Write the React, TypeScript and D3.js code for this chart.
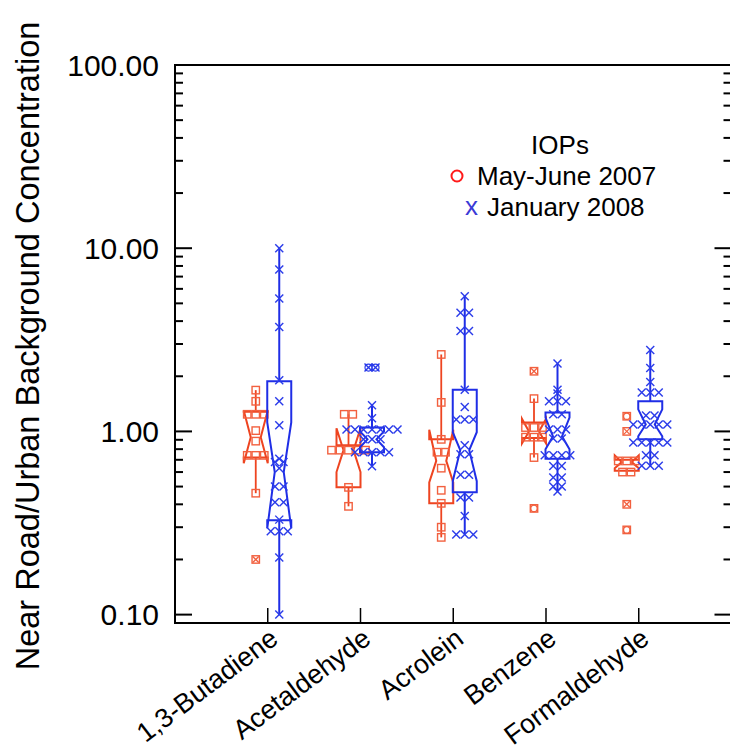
import React from "react";
import * as d3 from "d3";

const categories = ["1,3-Butadiene", "Acetaldehyde", "Acrolein", "Benzene", "Formaldehyde"];
const yTickValues = [0.1, 1, 10, 100];
const yTickLabels = ["0.10", "1.00", "10.00", "100.00"];
const yTitle = "Near Road/Urban Background Concentration";
const legendTitle = "IOPs";
const seriesNames = ["May-June 2007", "January 2008"];

// May-June 2007 (red) observations per category
const redValues = [
  [1.68, 1.46, 1.24, 1.24, 1.24, 1.01, 0.885, 0.74, 0.74, 0.74, 0.46],
  [1.24, 1.24, 0.79, 0.79, 0.79, 0.79, 0.79, 0.495, 0.39],
  [2.63, 1.44, 0.905, 0.77, 0.77, 0.63, 0.477, 0.405, 0.3, 0.264],
  [1.51, 1.05, 1.05, 1.05, 0.93, 0.93, 0.93, 0.72],
  [0.69, 0.69, 0.69, 0.6, 0.6],
];
// outliers: value and kind ("x" = marked with x, "o" = marked with circle)
const redOutlierValues = [[0.2], [], [], [2.13, 0.38], [1.21, 1.0, 0.4, 0.29]];
const redOutlierKinds = [["x"], [], [], ["x", "o"], ["o", "x", "x", "o"]];
const redQ1 = [0.72, 0.495, 0.405, 0.92, 0.61];
const redMedian = [0.93, 0.79, 0.69, 1.0, 0.68];
const redQ3 = [1.28, 0.84, 0.905, 1.12, 0.7];
const redNotchLo = [0.67, 0.6, 0.527, 0.86, 0.63];
const redNotchHi = [1.3, 1.04, 1.02, 1.17, 0.74];
const redWhiskLo = [0.46, 0.39, 0.264, 0.72, 0.6];
const redWhiskHi = [1.68, 1.24, 2.63, 1.51, 0.7];

// January 2008 (blue) observations per category
const blueValues = [
  [10, 7.65, 5.32, 3.71, 1.9, 1.46, 1.08, 0.71, 0.68, 0.68, 0.63, 0.5, 0.5, 0.41, 0.41, 0.33, 0.285, 0.285, 0.285, 0.205, 0.1],
  [1.39, 1.18, 1.025, 1.025, 1.025, 1.025, 1.025, 1.025, 1.025, 0.905, 0.905, 0.905, 0.77, 0.77, 0.77, 0.77, 0.77, 0.646],
  [5.47, 4.44, 4.44, 3.53, 3.53, 1.69, 1.36, 1.16, 1.16, 1.16, 0.84, 0.75, 0.75, 0.58, 0.58, 0.436, 0.436, 0.345, 0.274, 0.274, 0.274],
  [2.35, 1.69, 1.61, 1.46, 1.46, 1.46, 1.24, 1.24, 1.025, 1.025, 1.025, 0.915, 0.915, 0.74, 0.74, 0.74, 0.74, 0.647, 0.647, 0.56, 0.56, 0.5, 0.5, 0.47],
  [2.78, 2.22, 1.86, 1.63, 1.63, 1.63, 1.22, 1.22, 1.09, 1.09, 1.09, 1.09, 1.09, 0.87, 0.87, 0.87, 0.87, 0.87, 0.74, 0.74, 0.65, 0.65, 0.65],
];
const blueOutlierValues = [[], [2.23, 2.23], [], [], []];
const blueQ1 = [0.327, 0.77, 0.465, 0.71, 0.905];
const blueMedian = [0.6, 0.905, 0.79, 0.94, 1.09];
const blueQ3 = [1.88, 1.05, 1.69, 1.27, 1.46];
const blueNotchLo = [0.296, 0.82, 0.535, 0.8, 0.94];
const blueNotchHi = [1.12, 1.0, 0.99, 1.19, 1.32];
const blueWhiskLo = [0.1, 0.646, 0.274, 0.47, 0.64];
const blueWhiskHi = [10, 1.39, 5.47, 2.35, 2.78];

const W = 730;
const H = 751;
const LEFT = 175;
const RIGHT = 731.5;
const TOP = 65;
const BOTTOM = 623;
const RED = "#ee4420";
const RED_PT = "#f2603f";
const BLUE = "#1f2ee6";
const BLUE_PT = "#2a3bea";
const FONT = "'Liberation Sans', Arial, Helvetica, sans-serif";

const x = d3.scaleLinear().domain([0, categories.length + 1]).range([LEFT, RIGHT]);
const y = d3.scaleLog().domain([0.09, 100]).range([BOTTOM, TOP]);

function spread(values: number[], spacing: number) {
  const counts = new Map<number, number>();
  values.forEach((v) => counts.set(v, (counts.get(v) || 0) + 1));
  const seen = new Map<number, number>();
  return values.map((v) => {
    const n = counts.get(v) || 1;
    const i = seen.get(v) || 0;
    seen.set(v, i + 1);
    return { v, dx: (i - (n - 1) / 2) * spacing };
  });
}

function notchPath(cx: number, hw: number, nw: number, q1: number, nLo: number, med: number, nHi: number, q3: number) {
  const pts: [number, number][] = [
    [cx - hw, y(q1)],
    [cx + hw, y(q1)],
    [cx + hw, y(nLo)],
    [cx + nw, y(med)],
    [cx + hw, y(nHi)],
    [cx + hw, y(q3)],
    [cx - hw, y(q3)],
    [cx - hw, y(nHi)],
    [cx - nw, y(med)],
    [cx - hw, y(nLo)],
  ];
  return d3.line()(pts) + "Z";
}

function Square({ cx, cy }: { cx: number; cy: number }) {
  return <rect x={cx - 3.7} y={cy - 3.7} width={7.4} height={7.4} fill="none" stroke={RED_PT} strokeWidth={1.4} />;
}

function Cross({ cx, cy, r, color, w }: { cx: number; cy: number; r: number; color: string; w: number }) {
  return (
    <g stroke={color} strokeWidth={w}>
      <line x1={cx - r} y1={cy - r} x2={cx + r} y2={cy + r} />
      <line x1={cx - r} y1={cy + r} x2={cx + r} y2={cy - r} />
    </g>
  );
}

export default function App() {
  const minorTicks: number[] = [];
  [0.1, 1, 10].forEach((d) => {
    for (let k = 2; k <= 9; k++) minorTicks.push(d * k);
  });

  return (
    <svg width={W} height={H} style={{ position: "absolute", left: 0, top: 0, background: "#fff" }} fontFamily={FONT}>
      <rect x={0} y={0} width={W} height={H} fill="#fff" />
      {/* frame */}
      <g stroke="#000" strokeWidth={2} fill="none">
        <line x1={LEFT} y1={TOP} x2={RIGHT} y2={TOP} />
        <line x1={LEFT} y1={TOP - 1} x2={LEFT} y2={BOTTOM + 1} />
        <line x1={LEFT} y1={BOTTOM} x2={RIGHT} y2={BOTTOM} />
        <line x1={RIGHT} y1={TOP} x2={RIGHT} y2={BOTTOM} />
        {yTickValues.map((v) => (
          <g key={"mj" + v}>
            <line x1={LEFT} y1={y(v)} x2={LEFT + 17} y2={y(v)} />
            <line x1={RIGHT} y1={y(v)} x2={RIGHT - 17} y2={y(v)} />
          </g>
        ))}
        {minorTicks.map((v) => (
          <g key={"mn" + v}>
            <line x1={LEFT} y1={y(v)} x2={LEFT + 8} y2={y(v)} />
            <line x1={RIGHT} y1={y(v)} x2={RIGHT - 8} y2={y(v)} />
          </g>
        ))}
        {categories.map((c, i) => (
          <line key={"xt" + c} x1={x(i + 1)} y1={BOTTOM} x2={x(i + 1)} y2={BOTTOM - 15} strokeWidth={1.5} />
        ))}
      </g>
      {/* y tick labels */}
      {yTickValues.map((v, i) => (
        <text key={"yl" + v} x={159} y={y(v)} dy="0.36em" textAnchor="end" fontSize={30} fill="#000">
          {yTickLabels[i]}
        </text>
      ))}
      {/* y title */}
      <text transform={`translate(39,346) rotate(-90)`} textAnchor="middle" fontSize={32.5} fill="#000">
        {yTitle}
      </text>
      {/* category labels */}
      {categories.map((c, i) => (
        <text
          key={"cl" + c}
          transform={`translate(${x(i + 1) + 12},${642}) rotate(-37)`}
          textAnchor="end"
          fontSize={27}
          fill="#000"
        >
          {c}
        </text>
      ))}

      {/* red series */}
      {categories.map((c, i) => {
        const cx = x(i + 1) - 12;
        return (
          <g key={"red" + c}>
            <line x1={cx} y1={y(redQ3[i])} x2={cx} y2={y(redWhiskHi[i])} stroke={RED} strokeWidth={1.8} />
            <line x1={cx} y1={y(redQ1[i])} x2={cx} y2={y(redWhiskLo[i])} stroke={RED} strokeWidth={1.8} />
            <path
              d={notchPath(cx, 12, 5, redQ1[i], redNotchLo[i], redMedian[i], redNotchHi[i], redQ3[i])}
              fill="none"
              stroke={RED}
              strokeWidth={2}
              strokeLinejoin="miter"
            />
            {spread(redValues[i], 8.5).map((p, j) => (
              <Square key={j} cx={cx + p.dx} cy={y(p.v)} />
            ))}
            {redOutlierValues[i].map((v, j) => (
              <g key={"o" + j}>
                <Square cx={cx} cy={y(v)} />
                {redOutlierKinds[i][j] === "x" ? (
                  <Cross cx={cx} cy={y(v)} r={3} color={RED_PT} w={1.3} />
                ) : (
                  <circle cx={cx} cy={y(v)} r={3.2} fill="none" stroke={RED_PT} strokeWidth={1.3} />
                )}
              </g>
            ))}
          </g>
        );
      })}

      {/* blue series */}
      {categories.map((c, i) => {
        const cx = x(i + 1) + 11.5;
        return (
          <g key={"blue" + c}>
            <line x1={cx} y1={y(blueQ3[i])} x2={cx} y2={y(blueWhiskHi[i])} stroke={BLUE} strokeWidth={2} />
            <line x1={cx} y1={y(blueQ1[i])} x2={cx} y2={y(blueWhiskLo[i])} stroke={BLUE} strokeWidth={2} />
            <path
              d={notchPath(cx, 12, 4.5, blueQ1[i], blueNotchLo[i], blueMedian[i], blueNotchHi[i], blueQ3[i])}
              fill="none"
              stroke={BLUE}
              strokeWidth={2}
            />
            {spread(blueValues[i], 8.5).map((p, j) => (
              <Cross key={j} cx={cx + p.dx} cy={y(p.v)} r={4} color={BLUE_PT} w={1.4} />
            ))}
            {spread(blueOutlierValues[i], 7).map((p, j) => (
              <g key={"bo" + j}>
                <Cross cx={cx + p.dx} cy={y(p.v)} r={4} color={BLUE_PT} w={1.4} />
                <circle cx={cx + p.dx} cy={y(p.v)} r={3.5} fill="none" stroke={BLUE_PT} strokeWidth={1.2} />
              </g>
            ))}
          </g>
        );
      })}

      {/* legend */}
      <text x={560} y={154} textAnchor="middle" fontSize={26} fill="#000">
        {legendTitle}
      </text>
      <circle cx={457} cy={176} r={5.5} fill="none" stroke="#ff1a1a" strokeWidth={2} />
      <text x={477} y={185} fontSize={26} fill="#000">
        {seriesNames[0]}
      </text>
      <text x={465} y={215} fontSize={26} fill="#3a3ad6">
        x
      </text>
      <text x={487} y={216} fontSize={26} fill="#000">
        {seriesNames[1]}
      </text>
    </svg>
  );
}
